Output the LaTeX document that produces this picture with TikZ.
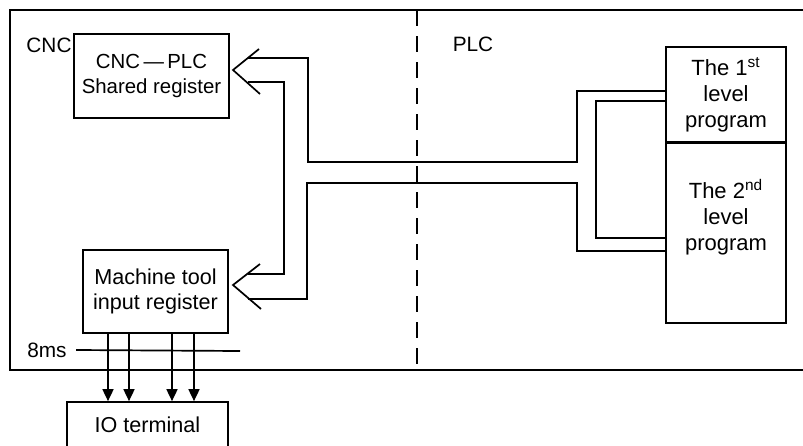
\documentclass[tikz,border=0pt]{standalone}
\usepackage{fontspec}
\setmainfont{Liberation Sans}
\usetikzlibrary{arrows.meta}
\begin{document}
\begin{tikzpicture}[x=0.5pt,y=-0.5pt,
  every node/.style={font=\fontsize{10.4}{13}\selectfont},
  box/.style={draw,line width=0.85pt,inner sep=0pt,align=center},
  wire/.style={line width=0.85pt},
  frame/.style={line width=0.85pt},
  divider/.style={line width=1pt,dash pattern=on 8pt off 5pt},
  downarrow/.style={line width=0.85pt,-{Triangle[length=6pt,width=5.5pt]}},
  lbl/.style={inner sep=0pt},
  bigtext/.style={font=\fontsize{11}{13}\selectfont},
  midtext/.style={font=\fontsize{10.8}{12.5}\selectfont}]
\useasboundingbox (0,0) rectangle (803,445);
% outer frame (open to the right)
\draw[frame] (815,10) -- (10,10) -- (10,370) -- (815,370);
% divider
\coordinate (dtop) at (417,10);
\coordinate (dbot) at (417,370);
\draw[divider] (dtop) -- (dbot);
% labels
\node[lbl] (cnc) at (49,45) {CNC};
\node[lbl] (plc) at (473,44) {PLC};
\node[lbl] (ms) at (47,350) {8ms};
% boxes
\node[box,font=\fontsize{10.2}{12.5}\selectfont,minimum width=77.5pt,minimum height=42pt] (shared) at (151.5,76) {CNC\,—\,PLC\\Shared register};
\node[box,midtext,minimum width=72.5pt,minimum height=41.5pt] (machine) at (155.5,291.5) {Machine tool\\input register};
\node[box,midtext,minimum width=80.5pt,minimum height=23pt] (io) at (147.5,425) {IO terminal};
\node[box,bigtext,minimum width=60pt,minimum height=48pt] (lvl1) at (726,95) {The 1\textsuperscript{st}\\level\\program};
\node[box,minimum width=60pt,minimum height=90.5pt] (lvl2) at (726,232.5) {};
\node[lbl,bigtext,align=center] (lvl2text) at (726,217) {The 2\textsuperscript{nd}\\level\\program};
% 8ms line
\coordinate (msend) at (240,351);
\draw[wire] (ms.east) ++(4.5pt,0) -- (msend);
% down arrows
\foreach \x in {108,129,172,194}{
  \draw[downarrow] (machine.south -| \x,0) -- (io.north -| \x,0);
}
% hollow arrow heads
\coordinate (t1) at (233,70);
\coordinate (t2) at (233,285);
\draw[wire] (259,49) -- (t1) -- (260,94);
\draw[wire] (260,264) -- (t2) -- (261,309);
% double-line connectors
\coordinate (a0) at (248,58);
\coordinate (a1) at (666,91);
\draw[wire] (a0) -- (308,58) -- (308,162) -- (577,162) -- (577,91) -- (a1);
\coordinate (b0) at (248,82);
\coordinate (b1) at (248,274);
\draw[wire] (b0) -- (284,82) -- (284,274) -- (b1);
\coordinate (c0) at (248,299);
\coordinate (c1) at (666,251);
\draw[wire] (c0) -- (307,299) -- (307,183) -- (577,183) -- (577,251) -- (c1);
\coordinate (d0) at (666,101);
\coordinate (d1) at (666,238);
\draw[wire] (d0) -- (596,101) -- (596,238) -- (d1);
\end{tikzpicture}
\end{document}
